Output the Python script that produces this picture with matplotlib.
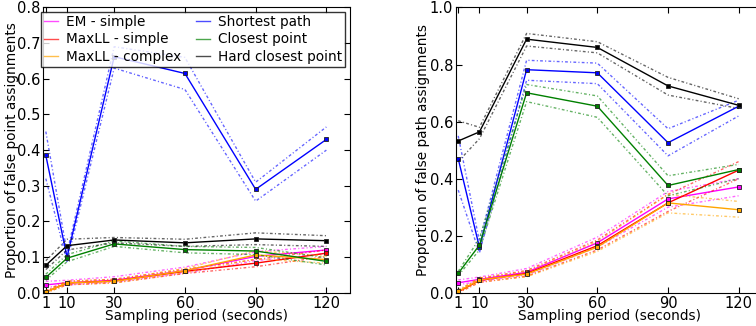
import numpy as np
import matplotlib.pyplot as plt

# sampling periods (seconds)
periods = [1, 10, 30, 60, 90, 120]

names = ["EM - simple", "MaxLL - simple", "MaxLL - complex",
         "Shortest path", "Closest point", "Hard closest point"]
colors = ["#ff00ff", "#ff0000", "#ffa500", "#0000ff", "#008000", "#000000"]

# false point assignments: mean, upper, lower
pt_mean = [
    [0.022, 0.028, 0.035, 0.062, 0.102, 0.120],
    [0.002, 0.027, 0.033, 0.060, 0.083, 0.111],
    [0.001, 0.028, 0.032, 0.062, 0.106, 0.093],
    [0.385, 0.100, 0.662, 0.615, 0.290, 0.430],
    [0.043, 0.097, 0.137, 0.121, 0.117, 0.088],
    [0.077, 0.132, 0.148, 0.140, 0.151, 0.146],
]
pt_up = [
    [0.032, 0.035, 0.045, 0.072, 0.115, 0.130],
    [0.006, 0.032, 0.038, 0.066, 0.093, 0.120],
    [0.005, 0.033, 0.037, 0.068, 0.118, 0.103],
    [0.452, 0.112, 0.690, 0.660, 0.310, 0.465],
    [0.052, 0.107, 0.145, 0.130, 0.127, 0.098],
    [0.090, 0.150, 0.155, 0.150, 0.168, 0.160],
]
pt_lo = [
    [0.015, 0.022, 0.030, 0.055, 0.090, 0.110],
    [0.000, 0.022, 0.028, 0.054, 0.073, 0.102],
    [0.000, 0.023, 0.027, 0.056, 0.095, 0.083],
    [0.320, 0.088, 0.630, 0.570, 0.257, 0.400],
    [0.035, 0.087, 0.130, 0.112, 0.107, 0.078],
    [0.065, 0.120, 0.140, 0.130, 0.135, 0.130],
]

# false path assignments: mean, upper, lower
ph_mean = [
    [0.035, 0.047, 0.072, 0.175, 0.329, 0.371],
    [0.003, 0.043, 0.068, 0.165, 0.315, 0.430],
    [0.005, 0.045, 0.065, 0.160, 0.315, 0.291],
    [0.470, 0.159, 0.782, 0.771, 0.526, 0.654],
    [0.068, 0.167, 0.701, 0.654, 0.376, 0.432],
    [0.532, 0.564, 0.889, 0.860, 0.725, 0.657],
]
ph_up = [
    [0.045, 0.055, 0.085, 0.195, 0.355, 0.400],
    [0.008, 0.050, 0.078, 0.185, 0.345, 0.460],
    [0.010, 0.052, 0.075, 0.180, 0.345, 0.320],
    [0.550, 0.180, 0.815, 0.805, 0.575, 0.675],
    [0.075, 0.190, 0.730, 0.690, 0.410, 0.450],
    [0.603, 0.580, 0.909, 0.880, 0.755, 0.680],
]
ph_lo = [
    [0.028, 0.040, 0.062, 0.160, 0.300, 0.340],
    [0.000, 0.036, 0.058, 0.150, 0.285, 0.400],
    [0.000, 0.038, 0.056, 0.145, 0.280, 0.265],
    [0.360, 0.140, 0.745, 0.733, 0.480, 0.620],
    [0.060, 0.150, 0.670, 0.615, 0.340, 0.400],
    [0.460, 0.540, 0.865, 0.841, 0.693, 0.646],
]

plt.rcParams["font.family"] = "DejaVu Sans"
plt.rcParams["font.size"] = 9.8

fig = plt.figure(figsize=(7.56, 3.26), dpi=100)
ax1 = fig.add_axes([0.0575, 0.102, 0.4054, 0.875])
ax2 = fig.add_axes([0.603, 0.102, 0.4054, 0.875])

bound_style = (0, (2, 1.6, 0.8, 1.6))


def draw(ax, mean, up, lo, ymax, ylabel):
    for i in range(len(names)):
        ax.plot(periods, up[i], linestyle=bound_style, color=colors[i], lw=1, alpha=0.6)
        ax.plot(periods, lo[i], linestyle=bound_style, color=colors[i], lw=1, alpha=0.6)
        ax.plot(periods, mean[i], '-', color=colors[i], lw=1,
                marker='s', ms=3.5, mec='#202020', mew=0.6, label=names[i])
    ax.set_xlim(0, 130)
    ax.set_ylim(0, ymax)
    ax.set_xticks(periods)
    ax.set_xlabel("Sampling period (seconds)", labelpad=-1)
    ax.set_ylabel(ylabel)
    ax.tick_params(direction='in', top=True, right=True, length=4, pad=2,
                   labelsize=10.5)


draw(ax1, pt_mean, pt_up, pt_lo, 0.8, "Proportion of false point assignments")
draw(ax2, ph_mean, ph_up, ph_lo, 1.0, "Proportion of false path assignments")
ax1.set_yticks(np.arange(0, 0.81, 0.1))
ax2.set_yticks(np.arange(0, 1.01, 0.2))
ax1.yaxis.set_label_coords(-0.104, 0.5)
ax2.yaxis.set_label_coords(-0.108, 0.5)
ax1.yaxis.label.set_va('center')
ax2.yaxis.label.set_va('center')

leg = ax1.legend(loc='upper left', ncol=2, fontsize=9.8, frameon=True,
                 fancybox=False, bbox_to_anchor=(40.7 / 756, 1 - 11.5 / 326),
                 bbox_transform=fig.transFigure, borderaxespad=0,
                 handlelength=1.0, labelspacing=0.26, columnspacing=1.1,
                 borderpad=0.25, handletextpad=0.6)
leg.get_frame().set_edgecolor('black')
leg.set_zorder(5)
for h in leg.legend_handles:
    h.set_marker('')
    h.set_alpha(0.7)

plt.savefig('out.png', dpi=100)
